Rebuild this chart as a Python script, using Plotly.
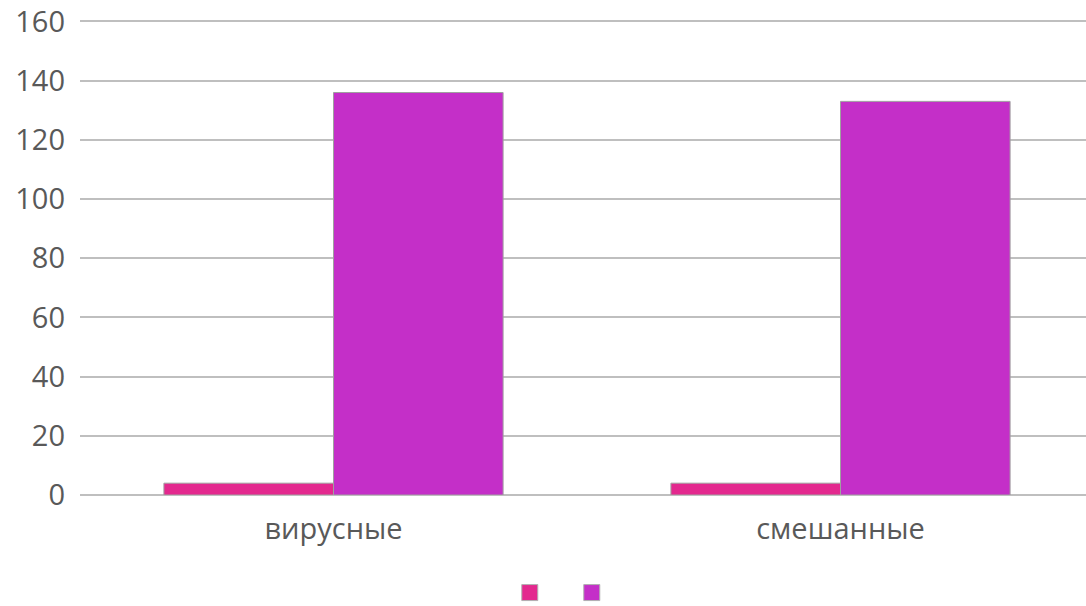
import plotly.graph_objects as go

categories = ["вирусные", "смешанные"]
series1 = [4, 4]
series2 = [136, 133]
colors = ["#E3288E", "#C42FC8"]
y_ticks = [0, 20, 40, 60, 80, 100, 120, 140, 160]

fig = go.Figure()
for vals, col in zip([series1, series2], colors):
    fig.add_trace(go.Bar(x=categories, y=vals, showlegend=False,
                         marker=dict(color=col, line=dict(color="#A0A0A0", width=1))))
# legend-only entries (larger square swatches)
for col in colors:
    fig.add_trace(go.Scatter(x=[None], y=[None], mode="markers", name=" ",
                             marker=dict(symbol="square", size=16, color=col,
                                         line=dict(color="#B0B0B0", width=1))))

fig.update_layout(
    width=1086, height=606,
    margin=dict(l=80, r=0, t=19.5, b=111),
    paper_bgcolor="white", plot_bgcolor="white",
    barmode="group", bargap=0.331, bargroupgap=0,
    font=dict(family="Open Sans", size=29, color="#595959"),
    showlegend=True,
    legend=dict(orientation="h", xref="container", yref="container",
                x=0.5265, xanchor="center", y=0.0215, yanchor="middle",
                font=dict(size=14), entrywidth=17, entrywidthmode="pixels"),
)
fig.update_xaxes(showgrid=False, showline=False, ticks="", automargin=False,
                 range=[-0.5, 1.4842],
                 tickfont=dict(size=29, color="#595959"), ticklabelstandoff=14)
fig.update_yaxes(range=[0, 160.5], tickvals=y_ticks, showgrid=True, gridcolor="#BFBFBF", gridwidth=2,
                 zeroline=True, zerolinecolor="#BFBFBF", zerolinewidth=2, automargin=False,
                 ticklabeloverflow="allow",
                 ticks="", ticklabelstandoff=14, tickfont=dict(size=29, color="#595959"))

fig.write_html("out.html", config={"displayModeBar": False},
               post_script="document.body.style.margin='0';document.body.style.overflow='hidden';")
